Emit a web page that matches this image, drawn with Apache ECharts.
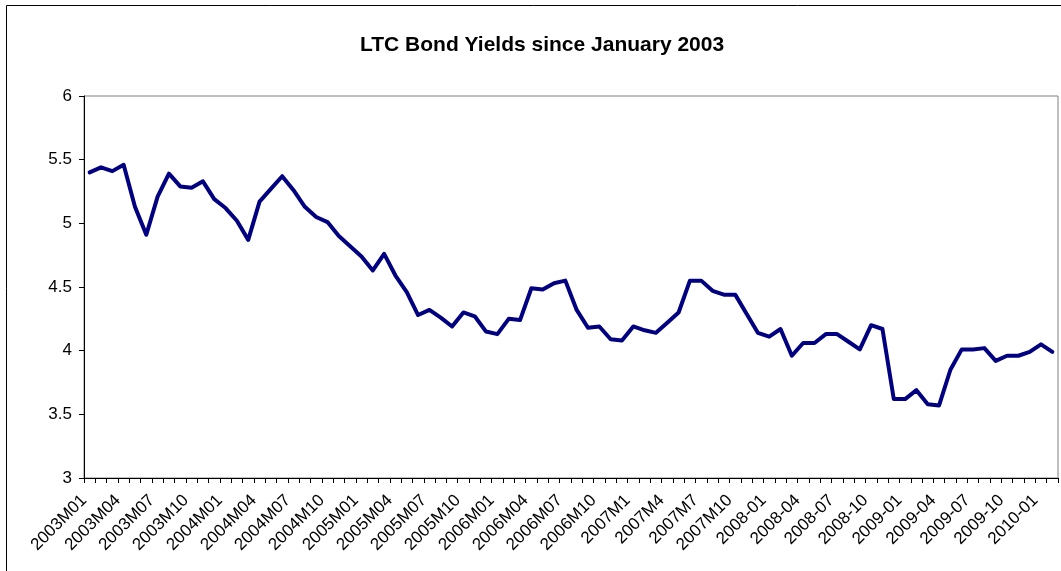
<!DOCTYPE html>
<html>
<head>
<meta charset="utf-8">
<title>LTC Bond Yields since January 2003</title>
<script src="https://cdn.jsdelivr.net/npm/echarts@6/dist/echarts.min.js"></script>
<style>
  html, body { margin: 0; padding: 0; background: #ffffff; }
  #chart { width: 1061px; height: 571px; }
</style>
</head>
<body>
<div id="chart"></div>
<script>
// Monthly category labels, January 2003 to February 2010
const months2003to2006 = [
  '2003M01','2003M02','2003M03','2003M04','2003M05','2003M06','2003M07','2003M08','2003M09','2003M10','2003M11','2003M12',
  '2004M01','2004M02','2004M03','2004M04','2004M05','2004M06','2004M07','2004M08','2004M09','2004M10','2004M11','2004M12',
  '2005M01','2005M02','2005M03','2005M04','2005M05','2005M06','2005M07','2005M08','2005M09','2005M10','2005M11','2005M12',
  '2006M01','2006M02','2006M03','2006M04','2006M05','2006M06','2006M07','2006M08','2006M09','2006M10','2006M11','2006M12'
];
const months2007 = [
  '2007M1','2007M2','2007M3','2007M4','2007M5','2007M6','2007M7','2007M8','2007M9','2007M10','2007M11','2007M12'
];
const months2008to2010 = [
  '2008-01','2008-02','2008-03','2008-04','2008-05','2008-06','2008-07','2008-08','2008-09','2008-10','2008-11','2008-12',
  '2009-01','2009-02','2009-03','2009-04','2009-05','2009-06','2009-07','2009-08','2009-09','2009-10','2009-11','2009-12',
  '2010-01','2010-02'
];
const categories = months2003to2006.concat(months2007, months2008to2010);

// Long-term bond yields (%)
const yields = [
  5.40, 5.44, 5.41, 5.46, 5.13, 4.91, 5.21, 5.39, 5.29, 5.28, 5.33, 5.19,
  5.12, 5.02, 4.87, 5.17, 5.27, 5.37, 5.26, 5.13, 5.05, 5.01, 4.90, 4.82,
  4.74, 4.63, 4.76, 4.59, 4.46, 4.28, 4.32, 4.26, 4.19, 4.30, 4.27, 4.15,
  4.13, 4.25, 4.24, 4.49, 4.48, 4.53, 4.55, 4.32, 4.18, 4.19, 4.09, 4.08,
  4.19, 4.16, 4.14, 4.22, 4.30, 4.55, 4.55, 4.47, 4.44, 4.44, 4.29, 4.14,
  4.11, 4.17, 3.96, 4.06, 4.06, 4.13, 4.13, 4.07, 4.01, 4.20, 4.17, 3.62,
  3.62, 3.69, 3.58, 3.57, 3.85, 4.01, 4.01, 4.02, 3.92, 3.96, 3.96, 3.99,
  4.05, 3.99
];

const yMin = 3;
const yMax = 6;
const yStep = 0.5;

const fontStack = '"Liberation Sans", Arial, sans-serif';

const chart = echarts.init(document.getElementById('chart'), null, { renderer: 'canvas' });

chart.setOption({
  backgroundColor: '#ffffff',
  animation: false,
  textStyle: { fontFamily: fontStack, color: '#000000' },
  title: {
    text: 'LTC Bond Yields since January 2003',
    left: 355,
    top: 30,
    textStyle: { fontSize: 21, fontWeight: 'bold', color: '#000000', fontFamily: fontStack }
  },
  graphic: [
    // outer chart frame (left and top edges)
    { type: 'line', shape: { x1: 6.5, y1: 5.5, x2: 6.5, y2: 571 }, style: { stroke: '#000000', lineWidth: 1 } },
    { type: 'line', shape: { x1: 6.5, y1: 5.5, x2: 1061, y2: 5.5 }, style: { stroke: '#000000', lineWidth: 1 } }
  ],
  grid: {
    left: 84,
    right: 3,
    top: 96,
    bottom: 93,
    show: true,
    borderColor: '#808080',
    borderWidth: 1,
    backgroundColor: 'transparent'
  },
  xAxis: {
    type: 'category',
    data: categories,
    boundaryGap: true,
    axisLine: { show: true, lineStyle: { color: '#000000', width: 1 } },
    axisTick: { show: true, interval: 0, length: 5, lineStyle: { color: '#000000' } },
    axisLabel: {
      interval: 2,
      rotate: 45,
      margin: 14,
      padding: [0, 8, 0, 0],
      fontSize: 17,
      color: '#000000',
      fontFamily: fontStack
    },
    splitLine: { show: false }
  },
  yAxis: {
    type: 'value',
    min: yMin,
    max: yMax,
    interval: yStep,
    axisLine: { show: true, lineStyle: { color: '#000000', width: 1 } },
    axisTick: { show: true, length: 5, lineStyle: { color: '#000000' } },
    axisLabel: {
      margin: 12,
      fontSize: 17,
      color: '#000000',
      fontFamily: fontStack
    },
    splitLine: { show: false }
  },
  series: [{
    name: 'LTC Bond Yields',
    type: 'line',
    data: yields,
    symbol: 'none',
    smooth: false,
    lineStyle: { color: '#000080', width: 4, join: 'round', cap: 'round' },
    itemStyle: { color: '#000080' }
  }]
});
</script>
</body>
</html>
